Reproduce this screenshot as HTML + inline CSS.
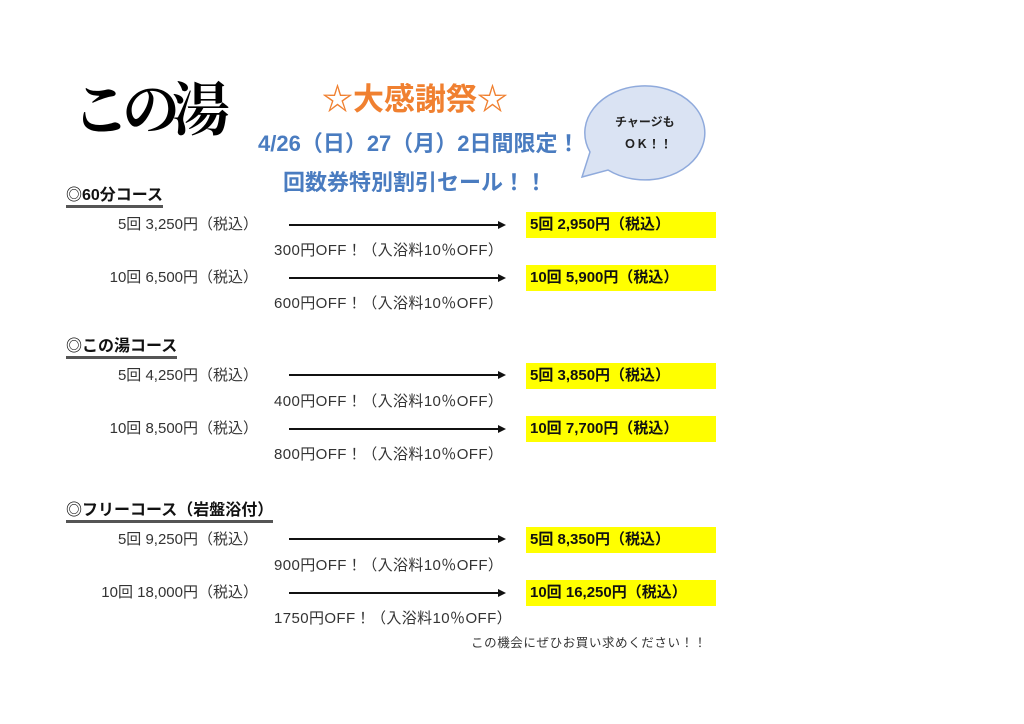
<!DOCTYPE html>
<html><head><meta charset="utf-8"><style>
body{margin:0;width:1024px;height:724px;background:#fff;position:relative;overflow:hidden;font-family:"Liberation Sans","Noto Sans CJK JP",sans-serif;color:#333}
.a{position:absolute;white-space:nowrap;line-height:1}
.l{font-size:15px;right:766px}
.off{font-size:15px;left:274px;letter-spacing:0.4px}
.y{position:absolute;left:526px;width:190px;height:26px;background:#ffff00;font-weight:bold;font-size:15px;color:#111;line-height:26px;padding-left:4px;box-sizing:border-box}
.h{font-size:16px;font-weight:bold;color:#111;left:66px;border-bottom:3px solid #555;padding-bottom:1px}
.arr{position:absolute;left:289px;width:210px;height:2px;background:#111}
.arr:after{content:"";position:absolute;right:-7px;top:-3px;border-left:8px solid #111;border-top:4px solid transparent;border-bottom:4px solid transparent}
</style></head><body>
<div class="a" style="left:72px;top:76px;font-size:58px;font-weight:bold;font-family:'Noto Serif CJK SC',serif;color:#000;letter-spacing:-8px">この湯</div>
<div class="a" style="left:322px;top:84px;font-size:31px;font-weight:bold;color:#f08030">☆大感謝祭☆</div>
<div class="a" style="left:258px;top:133px;font-size:22px;font-weight:bold;color:#4a7cc0">4/26（日）27（月）2日間限定！</div>
<div class="a" style="left:283px;top:172px;font-size:22px;font-weight:bold;color:#4a7cc0">回数券特別割引セール！！</div>
<svg class="a" style="left:570px;top:80px" width="150" height="110"><path d="M20,72 A60,47 0 1 1 38,90 L12,97 Z" fill="#dae3f3" stroke="#8faadc" stroke-width="1.5"/></svg>
<div class="a" style="left:615px;top:116px;font-size:12px;font-weight:bold;color:#222">チャージも</div>
<div class="a" style="left:624px;top:138px;font-size:12px;font-weight:bold;color:#222">ＯＫ！！</div>

<div class="a h" style="top:188px">◎60分コース</div>
<div class="a l" style="top:217px">5回 3,250円（税込）</div><div class="arr" style="top:224px"></div><div class="y" style="top:212px">5回 2,950円（税込）</div>
<div class="a off" style="top:243px">300円OFF！（入浴料10％OFF）</div>
<div class="a l" style="top:270px">10回 6,500円（税込）</div><div class="arr" style="top:277px"></div><div class="y" style="top:265px">10回 5,900円（税込）</div>
<div class="a off" style="top:296px">600円OFF！（入浴料10％OFF）</div>

<div class="a h" style="top:339px">◎この湯コース</div>
<div class="a l" style="top:368px">5回 4,250円（税込）</div><div class="arr" style="top:374px"></div><div class="y" style="top:363px">5回 3,850円（税込）</div>
<div class="a off" style="top:394px">400円OFF！（入浴料10％OFF）</div>
<div class="a l" style="top:421px">10回 8,500円（税込）</div><div class="arr" style="top:428px"></div><div class="y" style="top:416px">10回 7,700円（税込）</div>
<div class="a off" style="top:447px">800円OFF！（入浴料10％OFF）</div>

<div class="a h" style="top:503px">◎フリーコース（岩盤浴付）</div>
<div class="a l" style="top:532px">5回 9,250円（税込）</div><div class="arr" style="top:538px"></div><div class="y" style="top:527px">5回 8,350円（税込）</div>
<div class="a off" style="top:558px">900円OFF！（入浴料10％OFF）</div>
<div class="a l" style="top:585px">10回 18,000円（税込）</div><div class="arr" style="top:592px"></div><div class="y" style="top:580px">10回 16,250円（税込）</div>
<div class="a off" style="top:611px">1750円OFF！（入浴料10％OFF）</div>
<div class="a" style="left:471px;top:637px;font-size:12.5px;letter-spacing:0.6px;color:#333">この機会にぜひお買い求めください！！</div>
</body></html>
